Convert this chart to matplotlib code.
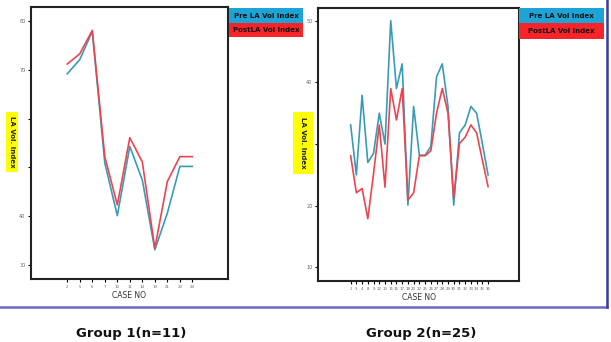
import matplotlib
matplotlib.use("Agg")
import matplotlib.pyplot as plt
from matplotlib.patches import Rectangle
from matplotlib.lines import Line2D

# ---- data ----
g1_cases = ["2", "5", "6", "7", "10", "11", "14", "19", "21", "23", "24"]
g1_pre = [69.2, 72.1, 77.9, 50.9, 40.1, 54.3, 47.4, 33.1, 40.6, 50.2, 50.2]
g1_post = [71.2, 73.3, 78.1, 52.2, 42.3, 56.1, 51.1, 33.4, 47.1, 52.2, 52.2]
g1_yticks = [30, 40, 50, 60, 70, 80]
g1_yticklabels = ["30", "40", "", "", "70", "80"]

g2_cases = ["1", "3", "4", "8", "9", "12", "13", "15", "16", "17", "18", "20", "22",
            "25", "26", "27", "28", "29", "30", "31", "32", "33", "34", "35", "36"]
g2_pre = [33.1, 25.0, 37.9, 27.0, 28.5, 35.0, 30.0, 50.0, 39.0, 43.0, 20.1, 36.1, 28.2,
          28.2, 29.6, 40.9, 43.0, 36.1, 20.1, 31.8, 33.1, 36.1, 35.0, 30.1, 25.0]
g2_post = [28.1, 22.1, 22.8, 17.9, 25.2, 33.1, 23.0, 39.0, 33.9, 39.0, 20.9, 22.1, 28.1,
           28.1, 28.9, 35.0, 39.0, 35.0, 21.2, 30.1, 31.1, 33.1, 31.8, 27.4, 23.1]
g2_yticks = [10, 20, 30, 40, 50]
g2_yticklabels = ["10", "20", "", "40", "50"]

series_names = ["Pre LA Vol Index", "PostLA Vol Index"]
group_titles = ["Group 1(n=11)", "Group 2(n=25)"]
xlabel = "CASE NO"
ylabel = "LA Vol. Index"

W, H = 611, 342
fig = plt.figure(figsize=(W / 100, H / 100), dpi=100)
fig.patch.set_facecolor("white")

BLUE_LINE = "#3a9bb8"
RED_LINE = "#ec4550"
BLUE_BOX = "#1ea3d6"
RED_BOX = "#f7252a"


def fr(x0, y0, x1, y1):
    return [x0 / W, 1 - y1 / H, (x1 - x0) / W, (y1 - y0) / H]


def panel(rect, cases, pre, post, yticks, yticklabels, xlim, ylim):
    ax = fig.add_axes(rect)
    x = list(range(len(cases)))
    ax.plot(x, pre, color=BLUE_LINE, lw=1.2)
    ax.plot(x, post, color=RED_LINE, lw=1.2)
    ax.set_xlim(*xlim)
    ax.set_ylim(*ylim)
    ax.set_xticks(x)
    ax.set_xticklabels(cases, fontsize=2.8, color="#666666")
    ax.set_yticks(yticks)
    ax.set_yticklabels(yticklabels, fontsize=3.5, color="#666666")
    ax.tick_params(length=2.5, width=0.8, pad=1.5)
    for s in ax.spines.values():
        s.set_linewidth(1.5)
        s.set_color("#222222")
    ax.set_xlabel(xlabel, fontsize=5.5, color="#333333", labelpad=1.5)
    return ax


panel(fr(31, 7, 228, 279), g1_cases, g1_pre, g1_post, g1_yticks, g1_yticklabels,
      (-2.9, 12.85), (27.1, 82.9))
panel(fr(318, 8, 519, 281), g2_cases, g2_pre, g2_post, g2_yticks, g2_yticklabels,
      (-5.7, 29.4), (7.8, 52.05))


def legend(x0, x1, y0, ymid, y1):
    for (ya, yb), col, name in [((y0, ymid), BLUE_BOX, series_names[0]),
                                ((ymid, y1), RED_BOX, series_names[1])]:
        fig.patches.append(Rectangle((x0 / W, 1 - yb / H), (x1 - x0) / W, (yb - ya) / H,
                                     transform=fig.transFigure, facecolor=col,
                                     edgecolor="none", zorder=3))
        fig.text((x0 + x1) / 2 / W, 1 - (ya + yb) / 2 / H, name, fontsize=5,
                 fontweight="bold", color="#111111", ha="center", va="center", zorder=4)


legend(229, 303, 8, 23, 37)
legend(519, 604, 8, 23, 39)


def ylab(x0, x1, y0, y1):
    fig.patches.append(Rectangle((x0 / W, 1 - y1 / H), (x1 - x0) / W, (y1 - y0) / H,
                                 transform=fig.transFigure, facecolor="#ffff00",
                                 edgecolor="none", zorder=3))
    fig.text((x0 + x1) / 2 / W, 1 - (y0 + y1) / 2 / H, ylabel, rotation=-90,
             fontsize=5, fontweight="bold", color="#222222", ha="center",
             va="center", zorder=4)


ylab(6, 18, 112, 172)
ylab(293, 313, 112, 174)

# slide frame lines
fig.add_artist(Line2D([0, 607 / W], [1 - 307 / H, 1 - 307 / H], transform=fig.transFigure,
                      color="#6a6ac8", lw=1.8))
fig.add_artist(Line2D([607 / W, 607 / W], [1 - 307 / H, 1.0], transform=fig.transFigure,
                      color="#3a3aa8", lw=1.8))

for cx, t in zip([131, 421], group_titles):
    fig.text(cx / W, 1 - 340 / H, t, fontsize=9.5, fontweight="bold", color="#111111",
             ha="center", va="bottom")

fig.savefig("out.png", dpi=100, facecolor="white")
